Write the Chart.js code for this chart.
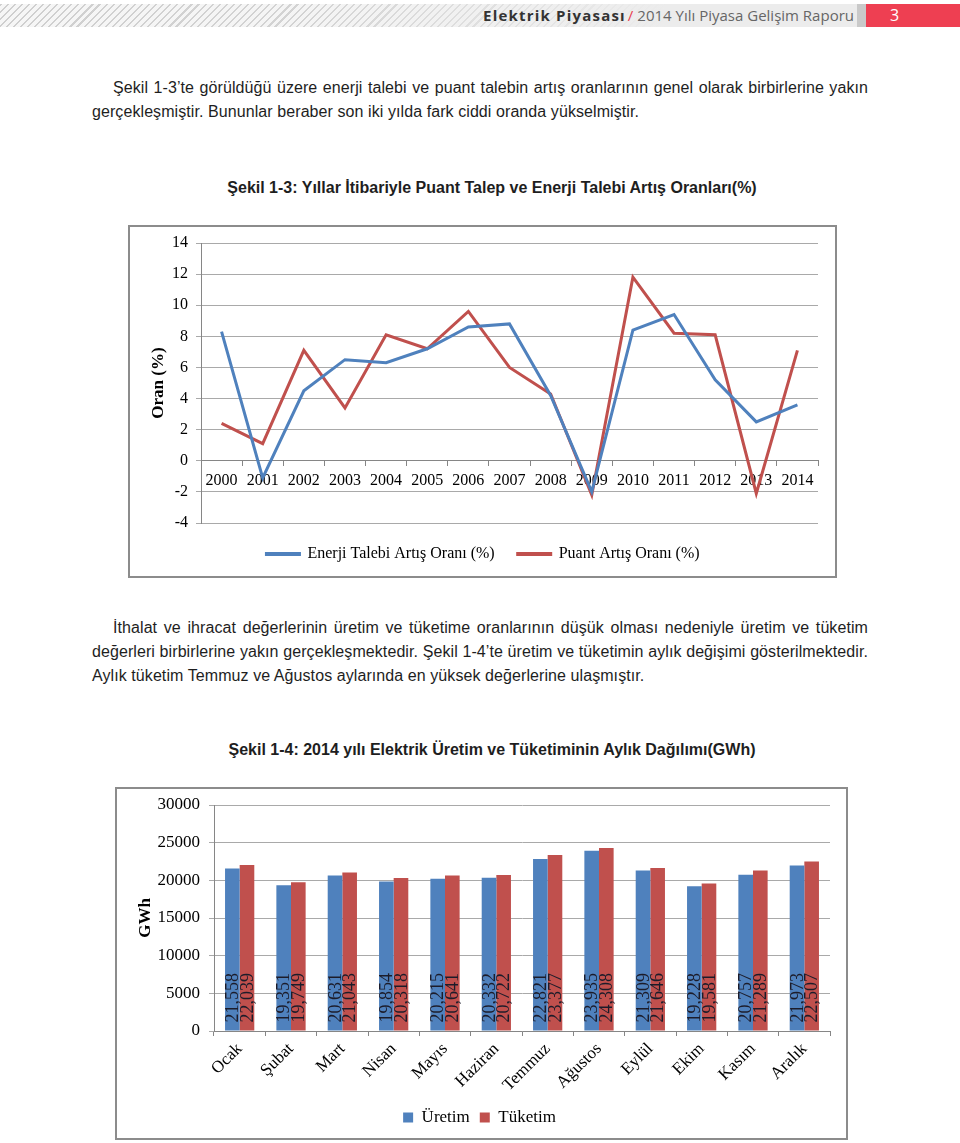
<!DOCTYPE html>
<html><head><meta charset="utf-8">
<script src="https://cdn.jsdelivr.net/npm/chart.js@4/dist/chart.umd.min.js"></script>
<style>
html,body{margin:0;padding:0;background:#fff;}
body{width:960px;height:1143px;position:relative;overflow:hidden;font-family:"Liberation Sans",Arial,sans-serif;color:#222;}
.hdr{position:absolute;left:0;top:4px;width:857px;height:23px;
 background:linear-gradient(90deg,rgba(236,236,236,0) 0%,rgba(236,236,236,0.15) 35%,rgba(236,236,236,1) 78%),
 repeating-linear-gradient(135deg,#cfcfcf 0 1.5px,#f6f6f6 1.5px 5px);}
.htxt{position:absolute;right:106px;top:4px;height:23px;line-height:23px;white-space:nowrap;font-family:"Open Sans",sans-serif;font-size:15px;color:#666;}
.htxt b{color:#333;letter-spacing:1.2px;font-weight:700;}
.htxt .sl{color:#e8404f;margin:0 4px 0 2px;}
.gbox{position:absolute;left:857px;top:4px;width:9px;height:23px;background:#c9c9c9;}
.rbox{position:absolute;left:866px;top:4px;width:94px;height:23px;background:#ee3f52;color:#fff;font-family:"Open Sans",sans-serif;font-size:16px;line-height:23px;}
.rbox span{position:absolute;left:24px;top:0;}
.ln{position:absolute;white-space:nowrap;font-size:16px;line-height:24px;letter-spacing:0.08px;color:#1e1e1e;}
.j{text-align:justify;text-align-last:justify;white-space:normal;}
.ttl{position:absolute;left:142px;width:700px;text-align:center;font-weight:bold;font-size:16px;line-height:20px;color:#1e1e1e;}
.box{position:absolute;border:2px solid #8c8c8c;box-sizing:border-box;background:#fff;}
.box canvas{display:block;}
</style></head><body>
<div class="hdr"></div>
<div class="htxt"><b>Elektrik Piyasası</b><span class="sl">/</span>2014 Yılı Piyasa Gelişim Raporu</div>
<div class="gbox"></div>
<div class="rbox"><span>3</span></div>

<div class="ln j" style="left:113px;top:76px;width:755px;">Şekil 1-3’te görüldüğü üzere enerji talebi ve puant talebin artış oranlarının genel olarak birbirlerine yakın</div>
<div class="ln" style="left:92px;top:100px;">gerçekleşmiştir. Bununlar beraber son iki yılda fark ciddi oranda yükselmiştir.</div>

<div class="ttl" style="top:178px;">Şekil 1-3: Yıllar İtibariyle Puant Talep ve Enerji Talebi Artış Oranları(%)</div>

<div class="box" style="left:128px;top:225px;width:709px;height:353px;"><canvas id="c1" width="705" height="349"></canvas></div>

<div class="ln j" style="left:113px;top:616px;width:755px;">İthalat ve ihracat değerlerinin üretim ve tüketime oranlarının düşük olması nedeniyle üretim ve tüketim</div>
<div class="ln j" style="left:92px;top:640px;width:776px;">değerleri birbirlerine yakın gerçekleşmektedir. Şekil 1-4’te üretim ve tüketimin aylık değişimi gösterilmektedir.</div>
<div class="ln" style="left:92px;top:664px;">Aylık tüketim Temmuz ve Ağustos aylarında en yüksek değerlerine ulaşmıştır.</div>

<div class="ttl" style="top:740px;">Şekil 1-4: 2014 yılı Elektrik Üretim ve Tüketiminin Aylık Dağılımı(GWh)</div>

<div class="box" style="left:115px;top:787px;width:733px;height:353px;"><canvas id="c2" width="729" height="349"></canvas></div>

<script>
// ---- Chart 1 data ----
const years = ['2000','2001','2002','2003','2004','2005','2006','2007','2008','2009','2010','2011','2012','2013','2014'];
const enerjiTalebi = [8.3,-1.1,4.5,6.5,6.3,7.2,8.6,8.8,4.2,-2.0,8.4,9.4,5.2,2.5,3.6];
const puantArtis   = [2.4,1.1,7.1,3.4,8.1,7.2,9.6,6.0,4.3,-2.2,11.8,8.2,8.1,-2.1,7.1];
const seriesNames1 = ['Enerji Talebi Artış Oranı (%)','Puant Artış Oranı (%)'];

// ---- Chart 2 data ----
const months = ['Ocak','Şubat','Mart','Nisan','Mayıs','Haziran','Temmuz','Ağustos','Eylül','Ekim','Kasım','Aralık'];
const uretim  = [21558,19351,20631,19854,20215,20332,22821,23935,21309,19228,20757,21973];
const tuketim = [22039,19749,21043,20318,20641,20722,23377,24308,21646,19581,21289,22507];
const seriesNames2 = ['Üretim','Tüketim'];

const BLUE = '#4F81BD', RED = '#C0504D';
const SERIF = '"Liberation Serif","Times New Roman",serif';

new Chart(document.getElementById('c1'), {
  type: 'line',
  data: {
    labels: years,
    datasets: [
      {label: seriesNames1[0], data: enerjiTalebi, borderColor: BLUE, backgroundColor: BLUE, borderWidth: 3, pointRadius: 0, tension: 0},
      {label: seriesNames1[1], data: puantArtis, borderColor: RED, backgroundColor: RED, borderWidth: 3, pointRadius: 0, tension: 0}
    ]
  },
  options: {
    responsive: false, animation: false,
    layout: {padding: {top: 16, right: 17, bottom: 4, left: 18}},
    plugins: {
      legend: {position: 'bottom', labels: {boxWidth: 33, boxHeight: 1, padding: 23, color: '#000', font: {family: SERIF, size: 16}}},
      tooltip: {enabled: false}
    },
    scales: {
      x: {
        position: {y: 0}, offset: true,
        grid: {offset: true, drawOnChartArea: false, tickLength: 5, color: '#868686'},
        border: {color: '#868686', width: 1},
        ticks: {color: '#000', font: {family: SERIF, size: 16}, padding: 5, maxRotation: 0, autoSkip: false},
        afterFit: s => { s.paddingLeft = 0; s.paddingRight = 0; }
      },
      y: {
        min: -4, max: 14,
        ticks: {stepSize: 2, color: '#000', font: {family: SERIF, size: 16}, padding: 8},
        grid: {color: '#a9a9a9', tickLength: 5},
        border: {color: '#868686'},
        title: {display: true, text: 'Oran (%)', color: '#000', font: {family: SERIF, size: 17, weight: 'bold'}, padding: {top: 0, bottom: 0}},
        afterFit: s => { s.width = 53; s.paddingTop = 0; s.paddingBottom = 0; }
      }
    }
  }
});

const barLabels = {
  id: 'barLabels',
  afterDatasetsDraw(chart) {
    const ctx = chart.ctx;
    ctx.save();
    ctx.font = '18px ' + SERIF;
    ctx.fillStyle = '#1c1c2a';
    ctx.textAlign = 'left';
    ctx.textBaseline = 'middle';
    chart.data.datasets.forEach((ds, i) => {
      chart.getDatasetMeta(i).data.forEach((bar, j) => {
        ctx.save();
        ctx.translate(bar.x, bar.base - 8);
        ctx.rotate(-Math.PI / 2);
        ctx.fillText(ds.data[j].toLocaleString('en-US'), 0, 1);
        ctx.restore();
      });
    });
    ctx.restore();
  }
};

new Chart(document.getElementById('c2'), {
  type: 'bar',
  data: {
    labels: months,
    datasets: [
      {label: seriesNames2[0], data: uretim, backgroundColor: BLUE, borderWidth: 0},
      {label: seriesNames2[1], data: tuketim, backgroundColor: RED, borderWidth: 0}
    ]
  },
  options: {
    responsive: false, animation: false,
    layout: {padding: {top: 16, right: 16, bottom: 2, left: 12}},
    datasets: {bar: {categoryPercentage: 0.57, barPercentage: 1}},
    plugins: {
      legend: {position: 'bottom', labels: {boxWidth: 10, boxHeight: 10, padding: 10, color: '#000', font: {family: SERIF, size: 17}}},
      tooltip: {enabled: false}
    },
    scales: {
      x: {
        grid: {offset: true, drawOnChartArea: false, tickLength: 5, color: '#868686'},
        border: {color: '#868686'},
        ticks: {minRotation: 45, maxRotation: 45, padding: 3, color: '#000', font: {family: SERIF, size: 17}, autoSkip: false},
        afterFit: s => { s.height = 68; s.paddingLeft = 0; s.paddingRight = 0; }
      },
      y: {
        min: 0, max: 30000,
        ticks: {stepSize: 5000, padding: 9, color: '#000', font: {family: SERIF, size: 17}, callback: v => String(v)},
        grid: {color: '#a9a9a9', tickLength: 5},
        border: {color: '#868686'},
        title: {display: true, text: 'GWh', color: '#000', font: {family: SERIF, size: 17, weight: 'bold'}, padding: {top: 6, bottom: 0}},
        afterFit: s => { s.width = 85; s.paddingTop = 0; s.paddingBottom = 0; }
      }
    }
  },
  plugins: [barLabels]
});
</script>
</body></html>
